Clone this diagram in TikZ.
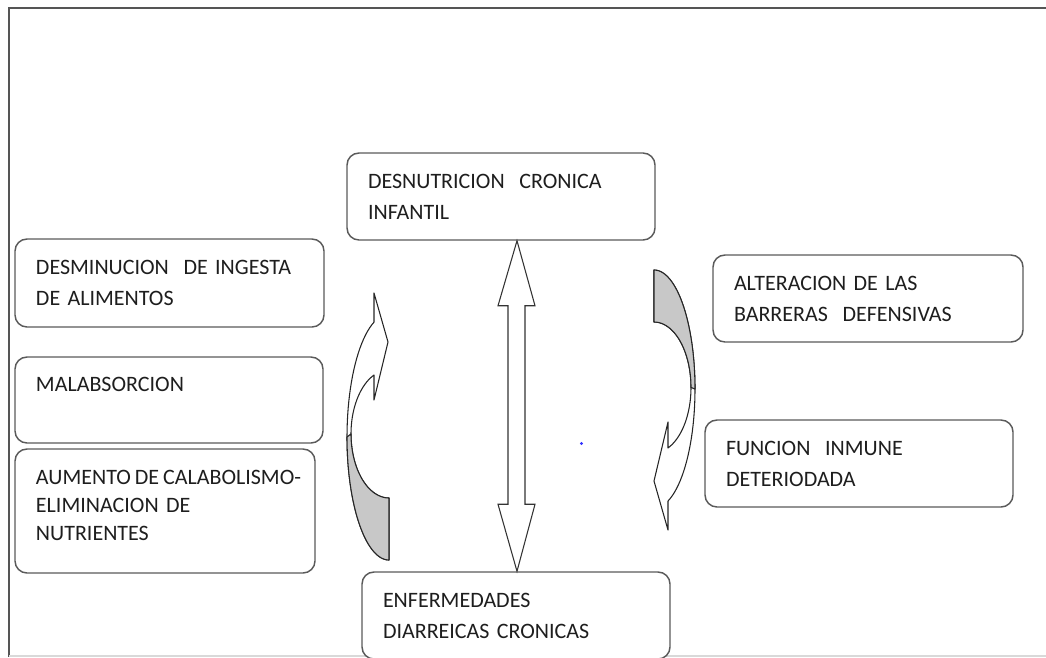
\documentclass[tikz,border=0pt]{standalone}
\usepackage{fontspec}
\setmainfont{Carlito}
\usetikzlibrary{calc}
\definecolor{txt}{HTML}{1E1E1E}
\definecolor{boxline}{HTML}{5A5A5A}
\definecolor{framec}{HTML}{555555}
\definecolor{shade}{HTML}{C8C8C8}
\begin{document}
\begin{tikzpicture}[x=0.75pt,y=-0.75pt,
  box/.style={draw=boxline, line width=1.1pt, rounded corners=9pt, fill=white,
    align=left, inner xsep=15.75pt, inner ysep=0pt, text=txt,
    font=\fontsize{16.5pt}{23.25pt}\selectfont},
  curvearrow/.style={draw=black!85, line width=0.8pt, fill=white, line join=round},
  dblarrow/.style={draw=black!80, line width=0.8pt, fill=white, line join=miter}]
\useasboundingbox (0,0) rectangle (1046,657);
\clip (0,0) rectangle (1046,657);
% frame
\draw[framec, line width=1.5pt] (1046,8) -- (9,8) -- (9,657);
\draw[black!15, line width=0.8pt] (9,656) -- (1046,656);

% boxes
\node[box, minimum width=231pt, text width=199.5pt, minimum height=65.25pt] (b1) at (501,196.5)
  {DESNUTRICION\ \ CRONICA\\INFANTIL};
\node[box, minimum width=231.75pt, text width=200.25pt, minimum height=66pt] (b2) at (169.5,283)
  {DESMINUCION\ \ DE INGESTA\\DE ALIMENTOS};
\node[box, minimum width=231pt, text width=199.5pt, minimum height=64.5pt] (b3) at (169,400)
  {MALABSORCION\\\mbox{}};
\node[box, minimum width=225pt, text width=193.5pt, minimum height=93pt,
  font=\fontsize{16.5pt}{21pt}\selectfont] (b4) at (165,511)
  {\mbox{AUMENTO\hspace{0.18em}DE\hspace{0.18em}CALABOLISMO-}\\ELIMINACION DE\\NUTRIENTES\par\vspace{9pt}};
\node[box, minimum width=232.5pt, text width=201pt, minimum height=65.25pt] (b5) at (868,298.5)
  {ALTERACION DE LAS\\BARRERAS\ \ DEFENSIVAS};
\node[box, minimum width=231pt, text width=199.5pt, minimum height=65.25pt] (b6) at (859,463.5)
  {FUNCION\ \ INMUNE\\DETERIODADA};
\node[box, minimum width=231pt, text width=199.5pt, minimum height=65.25pt] (b7) at (516,615.5)
  {ENFERMEDADES\\DIARREICAS CRONICAS};

% double arrow between b1 and b7
\coordinate (ta) at ($(b1.south)+(16,0)$);
\coordinate (tb) at ($(b7.north)+(1,0)$);
\draw[dblarrow] (ta) -- ($(ta)+(18,65)$) -- ($(ta)+(8,65)$) -- ($(tb)+(8,-67)$)
  -- ($(tb)+(18,-67)$) -- (tb) -- ($(tb)+(-19,-67)$) -- ($(tb)+(-9,-67)$)
  -- ($(ta)+(-9,65)$) -- ($(ta)+(-19,65)$) -- cycle;

% left curved arrow (up, pointing right)
\draw[curvearrow] (389,560)
  -- plot[domain=90:249.1, samples=50] ({389+42*cos(\x)},{437+123*sin(\x)})
  -- (374,293) -- (388,342) -- (374,400) -- (374,375)
  -- plot[domain=246.7:90, samples=50] ({389+38*cos(\x)},{433.9+64.1*sin(\x)})
  -- cycle;
\filldraw[curvearrow, fill=shade] (389,560)
  -- plot[domain=90:180, samples=40] ({389+42*cos(\x)},{437+123*sin(\x)})
  -- plot[domain=180:90, samples=40] ({389+38*cos(\x)},{433.9+64.1*sin(\x)})
  -- cycle;

% right curved arrow (down, pointing left)
\draw[curvearrow] (654,270)
  -- plot[domain=-90:70, samples=50] ({654+41*cos(\x)},{389.1+119.1*sin(\x)})
  -- (668,530) -- (654,481) -- (668,422) -- (668,448)
  -- plot[domain=67.8:-90, samples=50] ({654+37*cos(\x)},{387.4+65.4*sin(\x)})
  -- cycle;
\filldraw[curvearrow, fill=shade] (654,270)
  -- plot[domain=-90:0, samples=40] ({654+41*cos(\x)},{389.1+119.1*sin(\x)})
  -- plot[domain=0:-90, samples=40] ({654+37*cos(\x)},{387.4+65.4*sin(\x)})
  -- cycle;

% small blue dot
\fill[blue!80] (581.5,443.5) circle[radius=1.6];
\end{tikzpicture}
\end{document}
